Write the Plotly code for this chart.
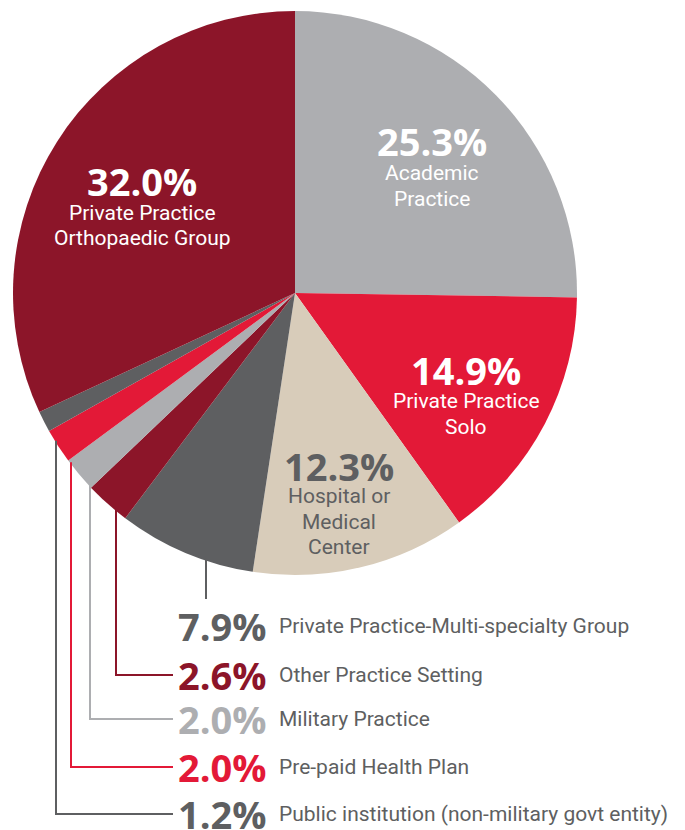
import math
import plotly.graph_objects as go

# ---- data ----
categories = ["Academic Practice", "Private Practice Solo", "Hospital or Medical Center",
              "Private Practice-Multi-specialty Group", "Other Practice Setting",
              "Military Practice", "Pre-paid Health Plan",
              "Public institution (non-military govt entity)",
              "Private Practice Orthopaedic Group"]
values = [25.3, 14.9, 12.3, 7.9, 2.6, 2.0, 2.0, 1.2, 32.0]
pct_labels = ["25.3%", "14.9%", "12.3%", "7.9%", "2.6%", "2.0%", "2.0%", "1.2%", "32.0%"]
inner_text = {0: ["Academic", "Practice"],
              1: ["Private Practice", "Solo"],
              2: ["Hospital or", "Medical", "Center"],
              8: ["Private Practice", "Orthopaedic Group"]}

# ---- style ----
DRED, GRAY, RED, BEIGE, DGRAY = "#8C1529", "#ADAEB1", "#E31937", "#D8CCBA", "#5E5F61"
colors = [GRAY, RED, BEIGE, DGRAY, DRED, GRAY, RED, DGRAY, DRED]
W, H = 685, 830
CX, CY, R = 295, 293, 282
BODY = "Roboto"
NUMF = "Open Sans"
BODY_SIZE = 21
NUM_SIZE = 38

def px(x):
    return x / W

def py(y):
    return 1 - y / H

fig = go.Figure(go.Pie(
    labels=categories, values=values, sort=False, direction="clockwise", rotation=0,
    marker=dict(colors=colors, line=dict(width=0)), textinfo="none", hoverinfo="label+percent",
    domain=dict(x=[px(CX - R), px(CX + R)], y=[py(CY + R), py(CY - R)]),
    showlegend=False,
))

annotations = []
shapes = []

# inner labels: (center x, percent y, first text line y) in pixels
inner_pos = {0: (432, 141, 173), 1: (466, 370, 401), 2: (339, 466, 496), 8: (142, 181, 213)}
LINE = 25.5
for i, (x, yp, yt) in inner_pos.items():
    tc = DGRAY if colors[i] == BEIGE else "white"
    annotations.append(dict(x=px(x), y=py(yp), xref="paper", yref="paper", text=pct_labels[i],
                            showarrow=False, font=dict(family=NUMF, size=NUM_SIZE, color=tc, weight="bold"),
                            xanchor="center", yanchor="middle"))
    for k, line in enumerate(inner_text[i]):
        annotations.append(dict(x=px(x), y=py(yt + k * LINE), xref="paper", yref="paper", text=line,
                                showarrow=False, font=dict(family=BODY, size=BODY_SIZE, color=tc),
                                xanchor="center", yanchor="middle"))

# outer labels with leader lines
outer = [3, 4, 5, 6, 7]
leader_x = {3: 206, 4: 116, 5: 90, 6: 71, 7: 56}
row_y = {3: 626, 4: 675, 5: 719, 6: 767, 7: 814}
PCT_RIGHT, TXT_LEFT, LINE_END = 269, 277, 173
for i in outer:
    c = colors[i]
    annotations.append(dict(x=px(PCT_RIGHT), y=py(row_y[i]), xref="paper", yref="paper",
                            text=pct_labels[i], showarrow=False,
                            font=dict(family=NUMF, size=NUM_SIZE, color=c, weight="bold"),
                            xanchor="right", yanchor="middle"))
    annotations.append(dict(x=px(TXT_LEFT), y=py(row_y[i]), xref="paper", yref="paper",
                            text=categories[i], showarrow=False,
                            font=dict(family=BODY, size=BODY_SIZE, color=DGRAY),
                            xanchor="left", yanchor="middle"))
    lx = leader_x[i]
    y0 = CY + math.sqrt(R * R - (lx - CX) ** 2) - 2
    if i == 3:
        shapes.append(dict(type="line", xref="paper", yref="paper", x0=px(lx), x1=px(lx),
                           y0=py(y0), y1=py(599), line=dict(color=c, width=2)))
    else:
        shapes.append(dict(type="path", xref="paper", yref="paper",
                           path=f"M {px(lx)} {py(y0)} L {px(lx)} {py(row_y[i])} L {px(LINE_END)} {py(row_y[i])}",
                           line=dict(color=c, width=2)))

fig.update_layout(width=W, height=H, margin=dict(l=0, r=0, t=0, b=0),
                  paper_bgcolor="white", plot_bgcolor="white",
                  annotations=annotations, shapes=shapes)
fig.write_html("out.html", config=dict(displayModeBar=False),
               post_script="document.body.style.margin='0';document.body.style.overflow='hidden';")
